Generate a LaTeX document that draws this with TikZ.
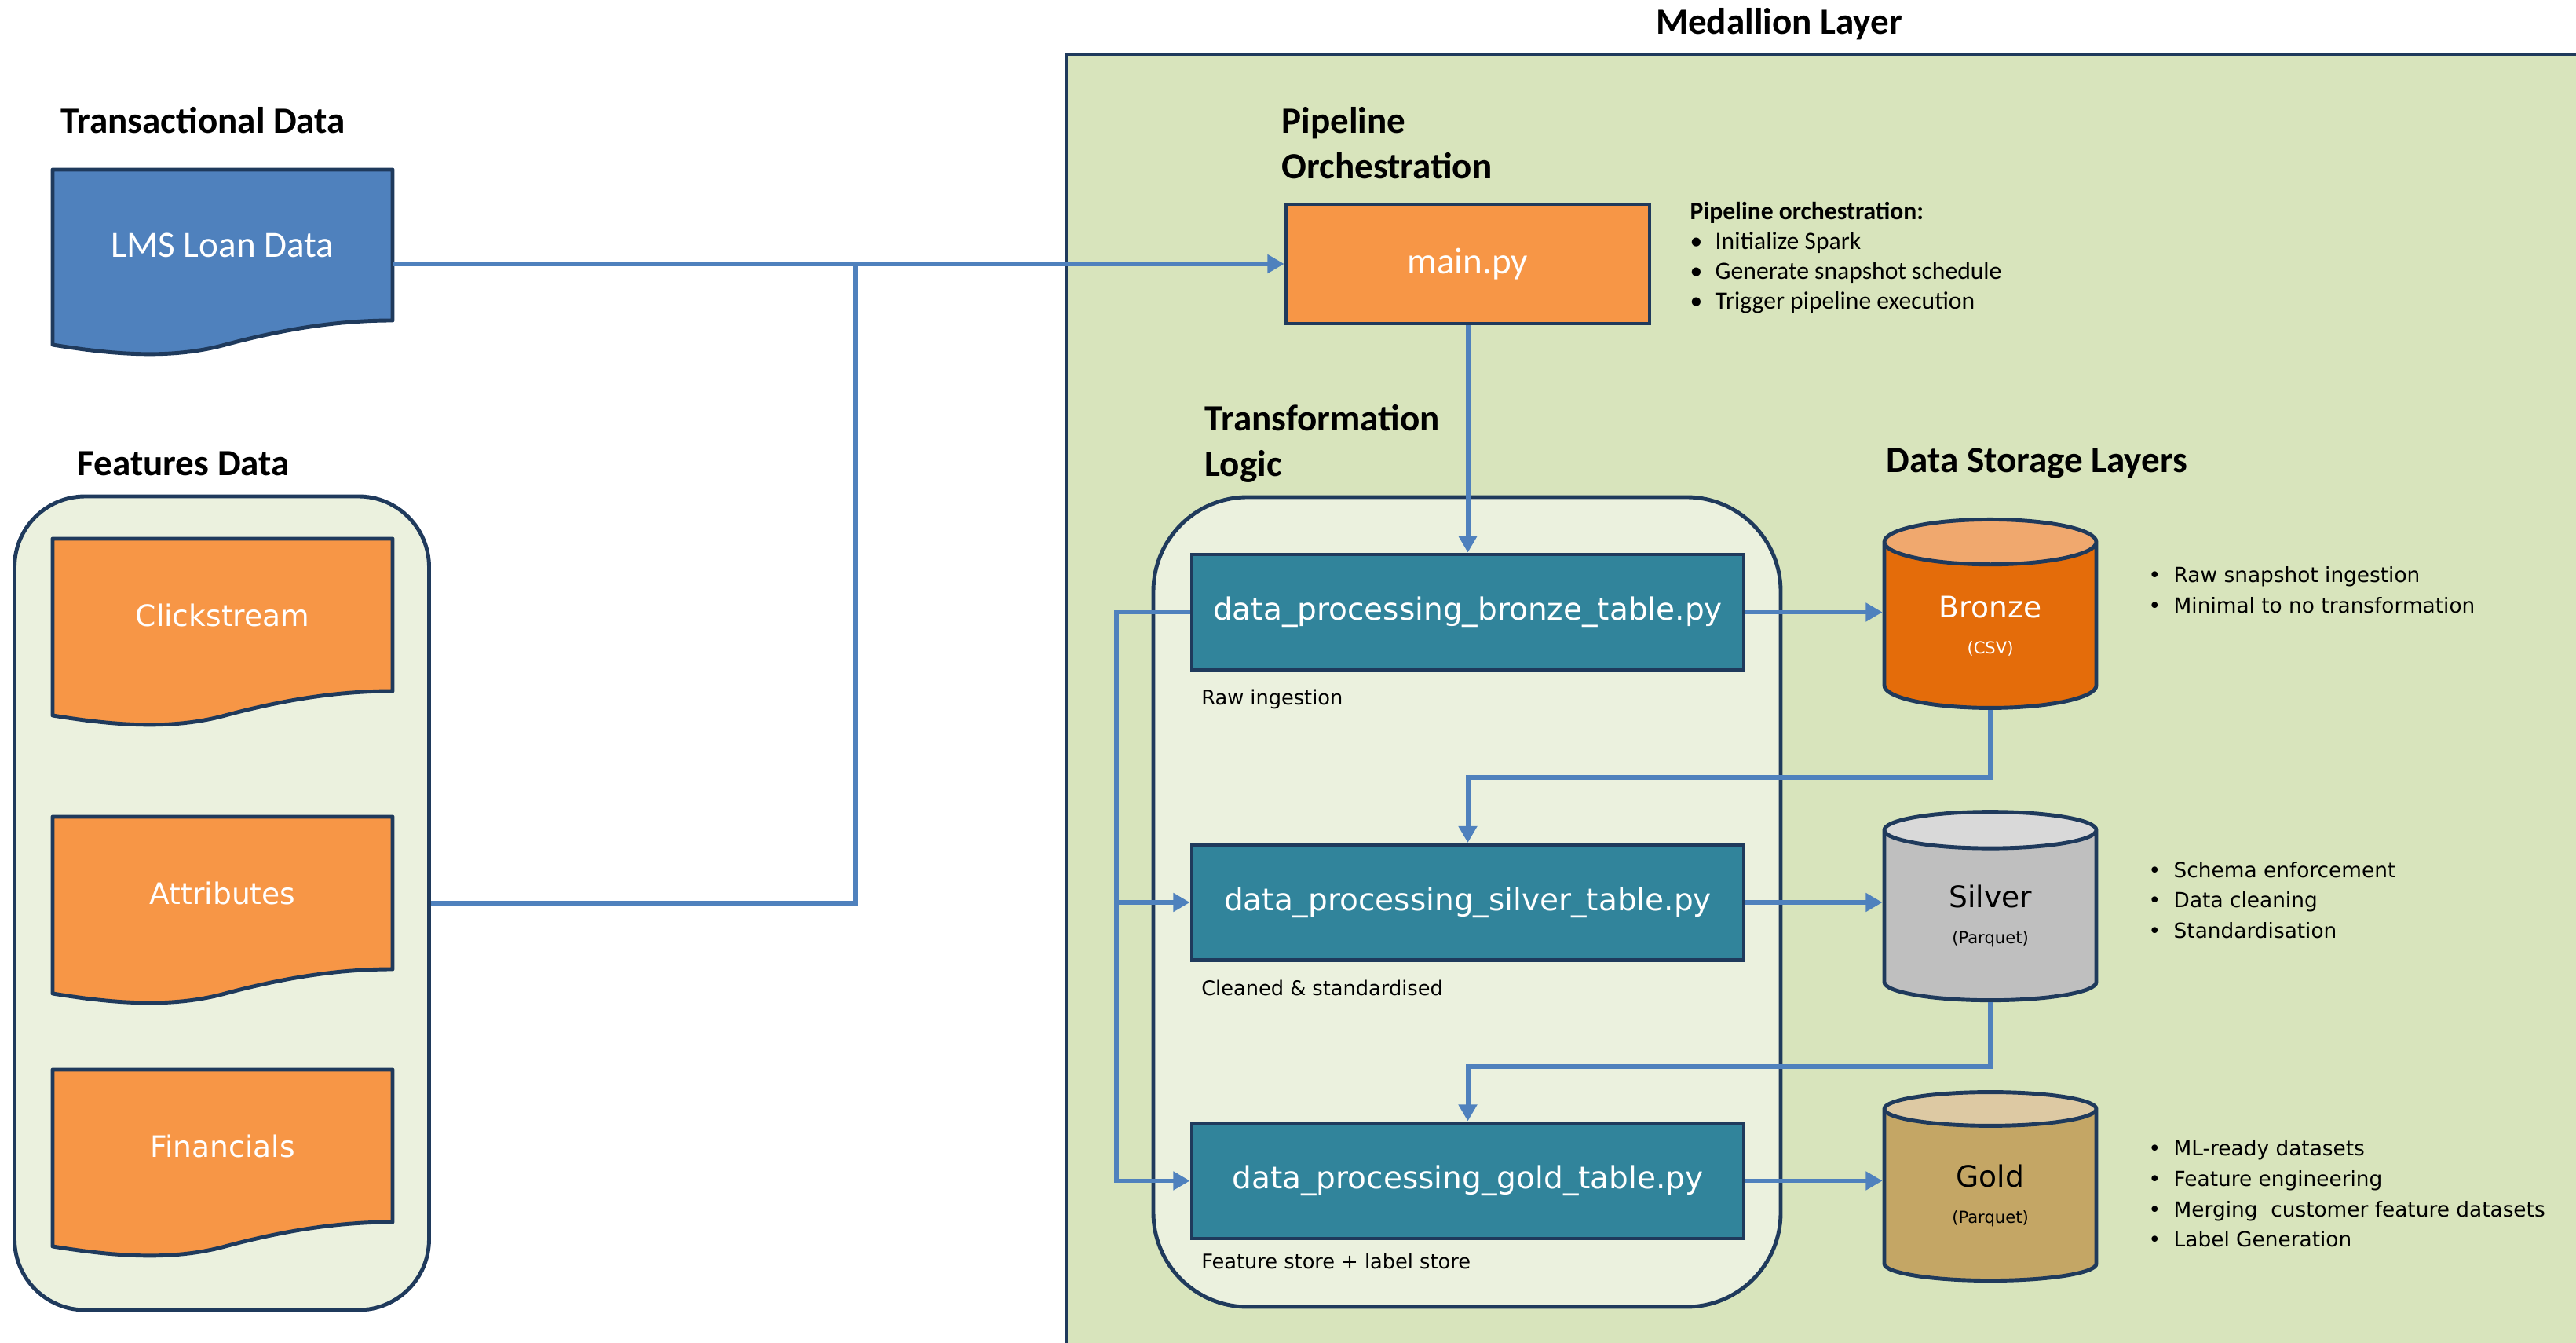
\documentclass[tikz,border=0pt]{standalone}
\usepackage{fontspec}
\newfontfamily\calfont{Carlito}
\newfontfamily\verfont{DejaVu Sans}
\usetikzlibrary{positioning, arrows.meta, shapes.geometric}

\pgfdeclarelayer{back}
\pgfdeclarelayer{mid}
\pgfsetlayers{back,mid,main}

\definecolor{edgecol}{HTML}{1F3A5C}
\definecolor{medfill}{HTML}{D8E4BC}
\definecolor{grpfill}{HTML}{EBF1DE}
\definecolor{lmsblue}{HTML}{4F81BD}
\definecolor{srcorange}{HTML}{F79646}
\definecolor{pyteal}{HTML}{31849B}
\definecolor{flowblue}{HTML}{4F81BD}
\definecolor{bronzebody}{HTML}{E46C0A}
\definecolor{bronzetop}{HTML}{F0A86E}
\definecolor{silverbody}{HTML}{BFBFBF}
\definecolor{silvertop}{HTML}{D9D9D9}
\definecolor{goldbody}{HTML}{C4A665}
\definecolor{goldtop}{HTML}{DDC9A3}

\newcommand{\bitem}[1]{\makebox[0.32cm][l]{\textbullet}#1}
\newcommand{\fmtsize}{\fontsize{6}{8}\selectfont}

% wavy "document" outline drawn behind a docnode
\newcommand{\docwave}[2]{%
  \begin{pgfonlayer}{mid}
    \begin{scope}[shift={(#1.south west)}]
      \draw[docline, fill=#2] (#1.north west) -- (#1.north east) -- (#1.south east)
        .. controls (3.6,0) and (2.9,-0.12) .. (2.16,-0.32)
        .. controls (1.5,-0.49) and (0.8,-0.44) .. (0,-0.31) -- cycle;
    \end{scope}
  \end{pgfonlayer}}

\tikzset{
    every node/.style={font=\verfont},
    headtitle/.style={
        font=\calfont\bfseries\fontsize{13.4}{16.5}\selectfont,
        inner sep=0pt, align=left,
    },
    docnode/.style={
        rectangle, minimum width=4.33cm, minimum height=1.94cm,
        inner sep=0pt, outer sep=0pt, text=white,
        font=\verfont\fontsize{10.7}{13}\selectfont,
    },
    docline/.style={draw=edgecol, line width=1.4pt, line join=round},
    groupbox/.style={
        rectangle, draw=edgecol, line width=1.4pt, fill=grpfill,
    },
    mainbox/.style={
        rectangle, draw=edgecol, line width=1.4pt, fill=srcorange,
        minimum width=4.63cm, minimum height=1.52cm, text=white,
        font=\calfont\fontsize{13.4}{16}\selectfont,
    },
    pybox/.style={
        rectangle, draw=edgecol, line width=1.4pt, fill=pyteal,
        minimum width=7.03cm, minimum height=1.47cm, text=white,
        font=\verfont\fontsize{11.1}{13}\selectfont,
    },
    sublbl/.style={font=\verfont\fontsize{7.3}{9}\selectfont, inner sep=0pt},
    storage/.style={
        cylinder, shape border rotate=90, aspect=0.44,
        draw=edgecol, line width=1.4pt, cylinder uses custom fill,
        minimum width=2.70cm, minimum height=2.40cm, inner sep=0pt,
        align=center, font=\verfont\fontsize{10.7}{12}\selectfont,
    },
    notes/.style={
        font=\verfont\fontsize{7.5}{11}\selectfont,
        align=left, anchor=west, inner sep=0pt,
    },
    arr/.style={-{Triangle[length=6pt, width=6.5pt]}, flowblue, line width=1.7pt},
    flow/.style={flowblue, line width=1.7pt},
}

\begin{document}
\begin{tikzpicture}
\useasboundingbox (0,0) rectangle (32.81,-17.10);

% ── Containers ─────────────────────────────────────────────────────
\begin{pgfonlayer}{back}
\fill[white] (0,0) rectangle (32.81,-17.10);
\draw[draw=edgecol, line width=1.4pt, fill=medfill]
    (13.58,-0.69) rectangle (32.90,-17.20);
\node[groupbox, rounded corners=0.9cm, minimum width=5.28cm,
      minimum height=10.36cm] (feat) at (2.825,-11.50) {};
\node[groupbox, rounded corners=1.2cm, minimum width=7.99cm,
      minimum height=10.31cm] (trans) at (18.685,-11.485) {};
\end{pgfonlayer}

% ── Titles ─────────────────────────────────────────────────────────
\node[headtitle] (medtitle) at (22.66,-0.31) {Medallion Layer};
\node[headtitle, anchor=west] (txtitle) at (0.77,-1.53) {Transactional Data};
\node[headtitle, anchor=west] (feattitle) at (0.98,-5.90) {Features Data};
\node[headtitle, anchor=west] (pipetitle) at (16.32,-1.82) {Pipeline\\Orchestration};
\node[headtitle, anchor=west] (transtitle) at (15.34,-5.65) {Transformation\\Logic};
\node[headtitle, anchor=west] (storetitle) at (24.02,-5.90) {Data Storage Layers};

% ── Source documents ───────────────────────────────────────────────
\node[docnode, minimum height=1.92cm, anchor=north west,
      font=\calfont\fontsize{13.4}{16}\selectfont] (lms) at (0.67,-2.16) {LMS Loan Data};
\docwave{lms}{lmsblue}
\node[docnode, anchor=north west] (click) at (0.67,-6.86) {Clickstream};
\docwave{click}{srcorange}
\node[docnode, anchor=north west] (attr) at (0.67,-10.40) {Attributes};
\docwave{attr}{srcorange}
\node[docnode, anchor=north west] (fin) at (0.67,-13.62) {Financials};
\docwave{fin}{srcorange}

% ── Orchestration ──────────────────────────────────────────────────
\node[mainbox] (main) at (18.695,-3.36) {main.py};
\node[notes, font=\calfont\fontsize{9}{10.8}\selectfont] (mainnote) at (21.52,-3.285)
    {\textbf{Pipeline orchestration:}\\
     \bitem{Initialize Spark}\\
     \bitem{Generate snapshot schedule}\\
     \bitem{Trigger pipeline execution}};

% ── Transformation scripts ─────────────────────────────────────────
\node[pybox] (bpy) at (18.695,-7.795) {data\_processing\_bronze\_table.py};
\node[pybox] (spy) at (18.695,-11.49) {data\_processing\_silver\_table.py};
\node[pybox] (gpy) at (18.695,-15.035) {data\_processing\_gold\_table.py};

\node[sublbl, below=0.22cm of bpy.south west, anchor=north west, xshift=0.14cm] (bsub) {Raw ingestion};
\node[sublbl, below=0.22cm of spy.south west, anchor=north west, xshift=0.14cm] (ssub) {Cleaned \& standardised};
\node[sublbl, below=0.16cm of gpy.south west, anchor=north west, xshift=0.14cm] (gsub) {Feature store + label store};

% ── Storage layers ─────────────────────────────────────────────────
\node[storage, cylinder body fill=bronzebody, cylinder end fill=bronzetop,
      text=white] (bcyl) at (25.35,-7.97) {Bronze\\[1pt]{\fmtsize(CSV)}};
\node[storage, cylinder body fill=silverbody, cylinder end fill=silvertop]
      (scyl) at (25.35,-11.665) {Silver\\[1pt]{\fmtsize(Parquet)}};
\node[storage, cylinder body fill=goldbody, cylinder end fill=goldtop]
      (gcyl) at (25.35,-15.225) {Gold\\[1pt]{\fmtsize(Parquet)}};

\node[notes] (bnote) at (27.36,-7.51)
    {\bitem{Raw snapshot ingestion}\\ \bitem{Minimal to no transformation}};
\node[notes] (snote) at (27.36,-11.46)
    {\bitem{Schema enforcement}\\ \bitem{Data cleaning}\\ \bitem{Standardisation}};
\node[notes] (gnote) at (27.36,-15.20)
    {\bitem{ML-ready datasets}\\ \bitem{Feature engineering}\\
     \bitem{Merging\ \ customer feature datasets}\\ \bitem{Label Generation}};

% ── Inputs → main.py ───────────────────────────────────────────────
\coordinate (jn) at (10.90,-3.36);
\draw[arr] (main.west -| lms.east) -- (main.west);
\draw[flow] (feat.east) -| (jn);

% ── main.py → bronze script ────────────────────────────────────────
\draw[arr] (main.south) -- (bpy.north);

% ── Bronze script fans out to silver / gold (loop left) ───────────
\draw[arr] (bpy.west) -- ++(-0.94,0) coordinate (lp) |- (gpy.west);
\draw[arr] (lp |- spy.west) -- (spy.west);

% ── Scripts → storage ──────────────────────────────────────────────
\draw[arr] (bpy.east) -- (bpy.east -| bcyl.west);
\draw[arr] (spy.east) -- (spy.east -| scyl.west);
\draw[arr] (gpy.east) -- (gpy.east -| gcyl.west);

% ── Storage → next script ──────────────────────────────────────────
\draw[arr] (bcyl.south) -- ++(0,-0.86) -| (spy.north);
\draw[arr] (scyl.south) -- ++(0,-0.82) -| (gpy.north);

\end{tikzpicture}
\end{document}
